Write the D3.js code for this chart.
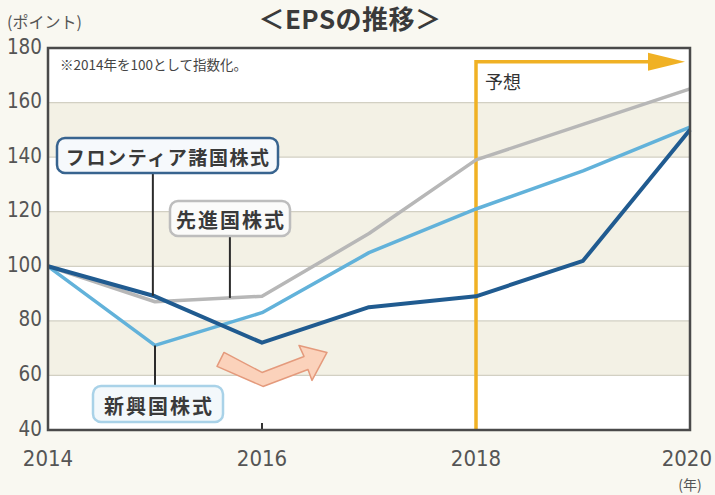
<!DOCTYPE html>
<html><head><meta charset="utf-8">
<script src="https://cdn.jsdelivr.net/npm/d3@7"></script>
<style>
html,body{margin:0;padding:0;background:#f9f8f1;}
svg{display:block;}
</style></head>
<body>
<svg id="chart" width="715" height="495"></svg>
<script>
const years = [2014, 2015, 2016, 2017, 2018, 2019, 2020];
const frontier = [100, 89, 72, 85, 89, 102, 150];
const developed = [100, 87, 89, 112, 139, 152, 165];
const emerging = [100, 71, 83, 105, 121, 135, 151];
const yTicks = [40, 60, 80, 100, 120, 140, 160, 180];
const xTicks = [2014, 2016, 2018, 2020];
const forecastStart = 2018;
const seriesNames = ["フロンティア諸国株式", "先進国株式", "新興国株式"];

const svg = d3.select("#chart");
const W = 715, H = 495;
const m = {l: 48, r: 25, t: 48, b: 65};
const x = d3.scaleLinear().domain([2014, 2020]).range([m.l, W - m.r]);
const y = d3.scaleLinear().domain([40, 180]).range([H - m.b, m.t]);
const numFont = "'Liberation Sans Narrow','DejaVu Sans Condensed','Liberation Sans',sans-serif";
const jpFont = "'Noto Sans CJK JP','Noto Sans CJK SC',sans-serif";

// bands
const bands = yTicks.slice(0, -1);
svg.append("g").selectAll("rect").data(bands).join("rect")
  .attr("x", x(2014)).attr("width", x(2020) - x(2014))
  .attr("y", d => y(d + 20)).attr("height", d => y(d) - y(d + 20))
  .attr("fill", (d, i) => i % 2 === 1 ? "#f3f1e5" : "#ffffff");

// gridlines
svg.append("g").selectAll("line").data(yTicks.slice(1, -1)).join("line")
  .attr("x1", x(2014)).attr("x2", x(2020))
  .attr("y1", d => y(d)).attr("y2", d => y(d))
  .attr("stroke", "#d2d0c3").attr("stroke-width", 1.2);

// y labels
svg.append("g").selectAll("text").data(yTicks).join("text")
  .attr("x", 42).attr("y", d => y(d) - 2)
  .attr("text-anchor", "end").attr("dominant-baseline", "central")
  .attr("font-family", numFont).attr("font-size", 22).attr("fill", "#555")
  .attr("textLength", d => String(d).length * 11.7).attr("lengthAdjust", "spacingAndGlyphs")
  .text(d => d);

// x labels
svg.append("g").selectAll("text").data(xTicks).join("text")
  .attr("x", (d, i) => i === xTicks.length - 1 ? W - 3 : x(d))
  .attr("y", 466)
  .attr("text-anchor", (d, i) => i === xTicks.length - 1 ? "end" : "middle")
  .attr("font-family", numFont).attr("font-size", 22).attr("fill", "#555")
  .text(d => d);
svg.append("text").attr("x", x(2020)).attr("y", 490).attr("text-anchor", "middle")
  .attr("font-family", jpFont).attr("font-size", 14).attr("fill", "#555").text("(年)");

// bottom inner ticks
svg.append("g").selectAll("line").data([2016, 2018]).join("line")
  .attr("x1", d => x(d)).attr("x2", d => x(d))
  .attr("y1", y(40)).attr("y2", y(40) - 7)
  .attr("stroke", "#333").attr("stroke-width", 2);

// unit & title
svg.append("text").attr("x", 7).attr("y", 28)
  .attr("font-family", jpFont).attr("font-size", 16).attr("fill", "#555").text("(ポイント)");
svg.append("text").attr("x", 350).attr("y", 29).attr("text-anchor", "middle")
  .attr("font-family", jpFont).attr("font-size", 26).attr("font-weight", 700).attr("fill", "#3a3a3a")
  .attr("letter-spacing", 0.5)
  .text("＜EPSの推移＞");

// note
svg.append("text").attr("x", 60).attr("y", 70)
  .attr("font-family", jpFont).attr("font-size", 13.5).attr("fill", "#444")
  .text("※2014年を100として指数化。");

// decorative chevron arrow, anchored via scales
const ax = x(2016), ay = y(60);
const chev = [[-38,-23],[0,-3],[42,-19],[37,-30],[65,-23],[50,5],[46,-6],[1,11],[-45,-9]];
svg.append("path")
  .attr("d", "M" + chev.map(p => [ax + p[0], ay + p[1]].join(",")).join("L") + "Z")
  .attr("fill", "#fbd2bb").attr("stroke", "#e49a7c").attr("stroke-width", 1.5)
  .attr("stroke-linejoin", "round");

// forecast arrow
const orange = "#f0b124";
const arrowLevel = 175;
const tipX = x(2020) - 5;
svg.append("path")
  .attr("d", `M${x(forecastStart)},${y(40)}L${x(forecastStart)},${y(arrowLevel)}L${tipX - 34},${y(arrowLevel)}`)
  .attr("fill", "none").attr("stroke", orange).attr("stroke-width", 3.5);
svg.append("path")
  .attr("d", `M${tipX - 37},${y(arrowLevel) - 9}L${tipX},${y(arrowLevel)}L${tipX - 37},${y(arrowLevel) + 9}Z`)
  .attr("fill", orange);
svg.append("text").attr("x", x(forecastStart) + 9).attr("y", 89)
  .attr("font-family", jpFont).attr("font-size", 18).attr("fill", "#333").text("予想");

// lines
const line = d3.line().x((d, i) => x(years[i])).y(d => y(d));
const series = [
  {vals: developed, color: "#b7b7b7", w: 3.5},
  {vals: emerging, color: "#62b2da", w: 3.5},
  {vals: frontier, color: "#205b90", w: 4}
];
svg.append("g").selectAll("path").data(series).join("path")
  .attr("d", d => line(d.vals)).attr("fill", "none")
  .attr("stroke", d => d.color).attr("stroke-width", d => d.w)
  .attr("stroke-linejoin", "round");

// plot border
svg.append("rect").attr("x", x(2014)).attr("y", y(180))
  .attr("width", x(2020) - x(2014)).attr("height", y(40) - y(180))
  .attr("fill", "none").attr("stroke", "#4a4a4a").attr("stroke-width", 2.5);

// labels with leaders
const interp = (vals, yr) => {
  const i = Math.floor(yr - 2014), t = yr - 2014 - i;
  return vals[i] + (vals[Math.min(i + 1, vals.length - 1)] - vals[i]) * t;
};
const labels = [
  {text: seriesNames[0], bx: 57, by: 138, bw: 221, bh: 35, stroke: "#38648f", fill: "#f6f9fc", fs: 19, ls: 1.6,
   lx: 2014.98, ly1: 173, val: interp(frontier, 2014.98)},
  {text: seriesNames[1], bx: 170, by: 201, bw: 120, bh: 35, stroke: "#bdbdbd", fill: "#fbfbfa", fs: 20, ls: 2,
   lx: 2015.7, ly1: 236, val: interp(developed, 2015.7)},
  {text: seriesNames[2], bx: 93, by: 386, bw: 130, bh: 36, stroke: "#a9d2e8", fill: "#f3f8fb", fs: 20, ls: 2,
   lx: 2015, ly1: 386, val: interp(emerging, 2015)}
];
const lg = svg.append("g");
labels.forEach(l => {
  lg.append("line").attr("x1", x(l.lx)).attr("x2", x(l.lx))
    .attr("y1", l.ly1).attr("y2", y(l.val))
    .attr("stroke", "#2b2b2b").attr("stroke-width", 2);
  lg.append("rect").attr("x", l.bx).attr("y", l.by).attr("width", l.bw).attr("height", l.bh)
    .attr("rx", 8).attr("fill", l.fill).attr("stroke", l.stroke).attr("stroke-width", 2.5);
  lg.append("text").attr("x", l.bx + l.bw / 2 + l.ls / 2).attr("y", l.by + l.bh / 2 + 1)
    .attr("text-anchor", "middle").attr("dominant-baseline", "central")
    .attr("font-family", jpFont).attr("font-size", l.fs).attr("font-weight", 700)
    .attr("letter-spacing", l.ls).attr("fill", "#3a3a3a").text(l.text);
});
</script>
</body></html>
